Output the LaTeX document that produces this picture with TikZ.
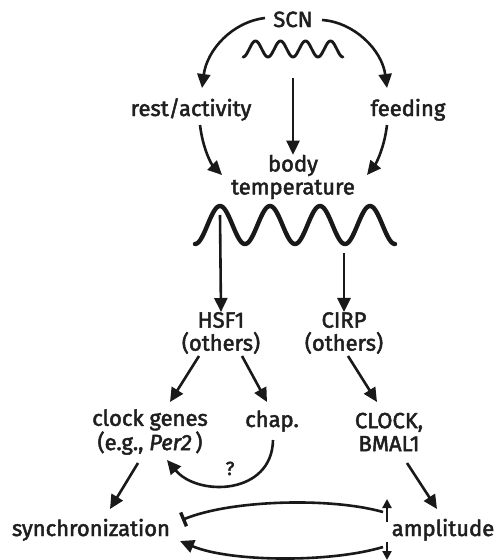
\documentclass[tikz,border=0pt]{standalone}
\usepackage{fontspec}
\setmainfont{Fira Sans}[FakeBold=2.2]
\usetikzlibrary{arrows.meta,calc}
\begin{document}
\begin{tikzpicture}[x=1pt,y=-1pt,
  lbl/.style={inner sep=0pt,font=\fontsize{22}{23}\selectfont,text=black!88,align=center},
  conn/.style={line width=2.6pt,draw=black!90,-{Triangle[length=14pt,width=13pt]}},
  inhib/.style={line width=2.6pt,draw=black!90,-{Bar[width=15pt,line width=3.4pt]}},
  small/.style={line width=2.2pt,draw=black!90,-{Triangle[length=9pt,width=9pt]}},
  wave/.style={draw=black!90,line cap=round}]
\useasboundingbox (0,0) rectangle (499,560);
\fill[white] (0,0) rectangle (499,560);
% text nodes
\node[lbl,anchor=base] (scn) at (293,27) {SCN};
\node[lbl,anchor=base] (rest) at (191,116) {rest/activity};
\node[lbl,anchor=base] (feed) at (408,116) {feeding};
\node[lbl] (body) at (293,177) {body\\temperature};
\node[lbl] (hsf) at (221,333) {HSF1\\(others)};
\node[lbl] (cirp) at (344,333) {CIRP\\(others)};
\node[lbl] (clock) at (150,432) {clock genes\\(e.g., \textit{Per2}\,)};
\node[lbl,anchor=base] (chap) at (272,427) {chap.};
\node[lbl] (clk) at (389,432) {CLOCK,\\BMAL1};
\node[lbl,anchor=base] (sync) at (91,536) {synchronization};
\node[lbl,anchor=base] (amp) at (443,536) {amplitude};
\node[lbl,anchor=base,font=\fontsize{19}{20}\selectfont] (q) at (230,475) {?};
% waves
\draw[wave,line width=2.9pt] plot[domain=243:343,samples=120,smooth] (\x,{49+8*cos(14.4*(\x-243))});
\draw[wave,line width=4.4pt] plot[domain=195:395,samples=200,smooth] (\x,{225+19*cos(7.2*(\x-195))});
% named endpoints
\coordinate (wl) at (220,215);
\coordinate (wr) at (344,253);
% connectors
\draw[conn] ($(scn.base)+(-28,-9)$) .. controls (232,22) and (207,50) .. (202,88);
\draw[conn] ($(scn.base)+(29,-7)$) .. controls (354,22) and (382,50) .. (387,88);
\draw[conn] (293,78) -- (body.north);
\draw[conn] ($(rest.base)+(9,9)$) .. controls (203,150) and (212,165) .. (222,175);
\draw[conn] ($(feed.base)+(-21,9)$) .. controls (384,150) and (375,165) .. (367,175);
\draw[conn] (wl) -- (hsf.north);
\draw[conn] (wr) -- (cirp.north);
\draw[conn] (199,356) -- (170,402);
\draw[conn] (242,356) -- (267,402);
\draw[conn] (348,356) -- (377,402);
\draw[conn] (273,440) .. controls (272,495) and (198,497) .. (167,460);
\draw[conn] (138,463) -- (110,509);
\draw[conn] (407,463) -- (437,509);
\draw[inhib] (383,512) .. controls (330,497) and (230,500) .. (182,520);
\draw[conn] (383,547) .. controls (330,563) and (230,562) .. (180,541);
\draw[small] (387,522) -- (387,499);
\draw[small] (387,542) -- (387,560);
\end{tikzpicture}
\end{document}
